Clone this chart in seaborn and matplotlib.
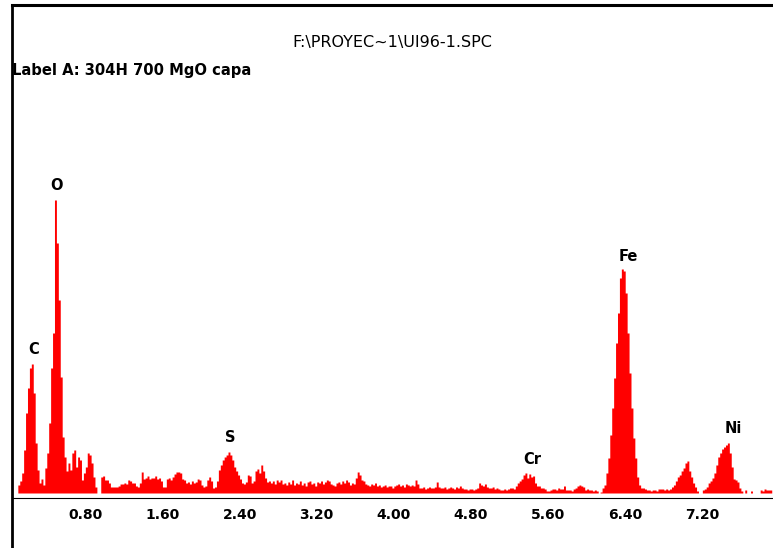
import numpy as np
import pandas as pd
import matplotlib
matplotlib.use("Agg")
import matplotlib.pyplot as plt
import seaborn as sns

# EDS spectrum: 0.02 keV channels starting at 0.10 keV
start_kev = 0.10
channel_kev = 0.02
counts = [
    8, 12, 20, 43, 80, 105, 125, 129, 100, 50, 23, 10, 14, 8, 25, 40, 70, 125, 160, 293,
    250, 193, 116, 56, 36, 22, 30, 23, 40, 43, 26, 36, 33, 13, 20, 26, 40, 38, 30, 16,
    6, 0, 0, 16, 17, 13, 13, 10, 6, 6, 6, 6, 7, 9, 9, 10, 9, 13, 12, 10,
    10, 7, 6, 10, 21, 14, 15, 17, 14, 15, 15, 17, 14, 15, 12, 6, 6, 14, 15, 13,
    16, 19, 21, 21, 20, 14, 13, 10, 11, 9, 12, 10, 11, 14, 13, 8, 6, 7, 13, 16,
    12, 5, 6, 12, 23, 28, 33, 36, 38, 41, 38, 33, 26, 22, 18, 14, 10, 9, 11, 18,
    17, 10, 12, 22, 24, 20, 28, 22, 15, 11, 12, 10, 12, 9, 13, 11, 13, 9, 10, 8,
    11, 9, 13, 8, 10, 9, 12, 8, 10, 7, 11, 12, 9, 10, 7, 11, 10, 12, 9, 11,
    13, 12, 9, 8, 7, 10, 11, 9, 12, 10, 13, 11, 8, 10, 9, 15, 21, 18, 13, 12,
    9, 8, 7, 9, 8, 10, 7, 8, 6, 7, 8, 6, 7, 7, 5, 7, 8, 9, 7, 8,
    6, 9, 8, 7, 8, 7, 13, 9, 5, 5, 6, 4, 5, 6, 5, 5, 6, 11, 6, 5,
    5, 6, 4, 5, 6, 5, 4, 6, 5, 7, 5, 4, 4, 3, 4, 4, 3, 4, 5, 10,
    8, 7, 9, 6, 5, 5, 6, 4, 5, 4, 3, 3, 4, 3, 4, 5, 5, 4, 7, 10,
    12, 14, 18, 20, 15, 19, 16, 17, 10, 7, 7, 5, 5, 4, 2, 2, 3, 4, 4, 3,
    5, 4, 4, 7, 3, 3, 3, 2, 4, 5, 7, 8, 7, 6, 3, 4, 3, 3, 2, 3,
    2, 0, 1, 5, 8, 20, 35, 58, 85, 115, 150, 180, 215, 224, 222, 200, 160, 120, 85, 55,
    35, 16, 8, 5, 5, 4, 3, 3, 2, 3, 3, 2, 4, 4, 4, 3, 4, 3, 4, 6,
    8, 12, 16, 18, 22, 25, 30, 32, 22, 16, 10, 6, 2, 0, 0, 3, 4, 6, 10, 12,
    15, 20, 28, 36, 40, 44, 46, 48, 50, 40, 26, 14, 13, 11, 5, 2, 0, 3, 0, 0,
    2, 0, 0, 0, 0, 3, 2, 4, 3, 3, 3,
]

# Element identifications and their line energies (keV)
elements = ["C", "O", "S", "Cr", "Fe", "Ni"]
element_kev = [0.26, 0.50, 2.30, 5.44, 6.43, 7.52]

tick_kev = [0.80, 1.60, 2.40, 3.20, 4.00, 4.80, 5.60, 6.40, 7.20]
tick_text = ["0.80", "1.60", "2.40", "3.20", "4.00", "4.80", "5.60", "6.40", "7.20"]

file_name = "F:\\PROYEC~1\\UI96-1.SPC"
label_a = "Label A: 304H 700 MgO capa"

n = len(counts)
edges = start_kev + channel_kev * np.arange(n + 1)
spectrum = pd.DataFrame({"kev": edges[:-1] + channel_kev / 2,
                         "counts": np.asarray(counts, dtype=float)})

sns.set_style("white")
plt.rcParams["font.family"] = ["DejaVu Sans"]

W, H = 773, 548
fig = plt.figure(figsize=(W / 100, H / 100), dpi=100)
fig.patch.set_facecolor("white")
ax = fig.add_axes([12 / W, 0, (W - 12) / W, (H - 5) / H])

sns.histplot(data=spectrum, x="kev", weights="counts",
             binwidth=channel_kev, binrange=(float(edges[0]), float(edges[-1])),
             element="step", fill=True, color="#ff0000", alpha=1,
             linewidth=0, ax=ax)

ax.set_xlim(0.0394, 7.933)
ax.set_ylim(-55, 488)
ax.set_xlabel("")
ax.set_ylabel("")
ax.set_yticks([])

ax.spines["right"].set_visible(False)
ax.spines["top"].set_linewidth(2.2)
ax.spines["left"].set_linewidth(2.0)
ax.spines["bottom"].set_position(("data", -4.5))
ax.spines["bottom"].set_linewidth(0.8)
for s in ("top", "left", "bottom"):
    ax.spines[s].set_color("black")

ax.set_xticks(tick_kev)
ax.set_xticklabels(tick_text, fontsize=10, fontweight="bold")
ax.tick_params(axis="x", direction="inout", length=4, width=0.8,
               color="black", pad=5.5, labelcolor="black")

# Element labels placed just above the local maximum of each peak
kev_centers = spectrum["kev"].to_numpy()
cnt = spectrum["counts"].to_numpy()
for name, e in zip(elements, element_kev):
    near = np.abs(kev_centers - e) <= 0.06
    top = cnt[near].max()
    ax.text(e, top + 7, name, ha="center", va="bottom",
            fontsize=10.5, fontweight="bold", color="black")

fig.text(392 / W, 1 - 42 / H, file_name, ha="center", va="center",
         fontsize=11.5, color="black")
fig.text(12 / W, 1 - 70 / H, label_a, ha="left", va="center",
         fontsize=10.6, fontweight="bold", color="black")

fig.savefig("out.png", dpi=100)
